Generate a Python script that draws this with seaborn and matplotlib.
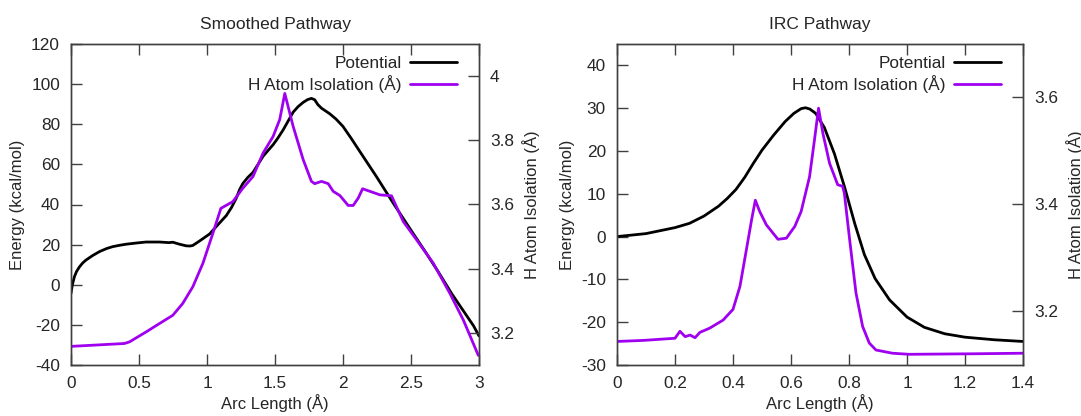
import numpy as np
import pandas as pd
import seaborn as sns
import matplotlib
matplotlib.use("Agg")
import matplotlib.pyplot as plt
from matplotlib.ticker import FuncFormatter, MultipleLocator

# ---------------- data ----------------
# Smoothed pathway: potential energy (kcal/mol)
sm_pot_x = [0.0, 0.01, 0.025, 0.04, 0.061, 0.085, 0.11, 0.16, 0.209, 0.26, 0.307, 0.36, 0.405,
            0.48, 0.552, 0.65, 0.72, 0.749, 0.798, 0.847, 0.875, 0.896, 0.945, 1.019, 1.068,
            1.142, 1.18, 1.215, 1.24, 1.264, 1.3, 1.338, 1.38, 1.412, 1.45, 1.486, 1.52,
            1.56, 1.6, 1.633, 1.67, 1.707, 1.74, 1.768, 1.792, 1.815, 1.842, 1.903, 1.95,
            2.0, 2.06, 2.124, 2.246, 2.37, 2.49, 2.6, 2.7, 2.8, 2.9, 2.96, 3.0]
sm_pot_e = [-4.3, 0.0, 4.0, 6.5, 8.8, 10.8, 12.3, 14.6, 16.5, 18.0, 19.0, 19.7, 20.2,
            20.8, 21.3, 21.3, 21.0, 21.2, 20.2, 19.4, 19.3, 19.6, 21.8, 25.3, 29.0,
            34.5, 38.5, 43.1, 47.5, 50.5, 53.5, 56.0, 60.5, 64.0, 67.0, 69.8, 73.0,
            77.2, 82.0, 86.0, 88.8, 90.9, 92.3, 92.9, 92.2, 89.8, 88.0, 85.2, 82.5,
            78.9, 73.0, 66.4, 53.9, 40.6, 28.2, 17.0, 6.5, -4.5, -14.5, -20.5, -25.5]
# Smoothed pathway: H atom isolation (Å)
sm_iso_x = [0.0, 0.393, 0.43, 0.552, 0.65, 0.749, 0.822, 0.896, 0.97, 1.043, 1.102, 1.19,
            1.264, 1.338, 1.412, 1.486, 1.535, 1.572, 1.633, 1.707, 1.768, 1.792, 1.842,
            1.891, 1.928, 1.977, 2.038, 2.075, 2.112, 2.144, 2.198, 2.272, 2.357, 2.443,
            2.541, 2.664, 2.786, 2.885, 2.995]
sm_iso_h = [3.158, 3.167, 3.172, 3.203, 3.229, 3.255, 3.292, 3.344, 3.417, 3.51, 3.588, 3.609,
            3.651, 3.687, 3.76, 3.812, 3.865, 3.946, 3.844, 3.74, 3.672, 3.665, 3.672,
            3.665, 3.641, 3.628, 3.597, 3.597, 3.62, 3.649, 3.641, 3.63, 3.627, 3.547,
            3.49, 3.417, 3.323, 3.24, 3.13]

# IRC pathway: potential energy (kcal/mol)
irc_pot_x = [0.0, 0.1, 0.2, 0.25, 0.3, 0.35, 0.38, 0.41, 0.44, 0.47, 0.5, 0.54, 0.58,
             0.61, 0.635, 0.65, 0.665, 0.685, 0.715, 0.75, 0.785, 0.82, 0.853, 0.89,
             0.94, 1.0, 1.06, 1.13, 1.2, 1.3, 1.4]
irc_pot_e = [0.0, 0.7, 2.1, 3.1, 4.8, 7.1, 8.9, 11.0, 13.8, 17.1, 20.2, 23.7, 26.9,
             28.8, 29.9, 30.1, 29.8, 28.8, 25.5, 19.3, 11.5, 3.0, -4.2, -9.8,
             -14.8, -18.8, -21.2, -22.7, -23.5, -24.1, -24.5]
# IRC pathway: H atom isolation (Å)
irc_iso_x = [0.0, 0.0916, 0.2, 0.217, 0.235, 0.252, 0.269, 0.286, 0.32, 0.366, 0.4, 0.424,
             0.446, 0.464, 0.477, 0.492, 0.515, 0.555, 0.584, 0.613, 0.635, 0.664, 0.681,
             0.695, 0.71, 0.733, 0.761, 0.778, 0.784, 0.801, 0.824, 0.847, 0.87, 0.893,
             0.95, 1.007, 1.236, 1.4]
irc_iso_h = [3.144, 3.146, 3.15, 3.163, 3.153, 3.156, 3.151, 3.161, 3.169, 3.184, 3.204, 3.247,
             3.315, 3.371, 3.408, 3.387, 3.362, 3.335, 3.337, 3.359, 3.387, 3.452, 3.521,
             3.58, 3.533, 3.477, 3.437, 3.434, 3.421, 3.34, 3.235, 3.172, 3.141, 3.128,
             3.122, 3.12, 3.121, 3.122]

titles = ["Smoothed Pathway", "IRC Pathway"]
x_label = "Arc Length (Å)"
y_label = "Energy (kcal/mol)"
y2_label = "H Atom Isolation (Å)"
pot_name = "Potential"
iso_name = "H Atom Isolation (Å)"

# ---------------- style ----------------
sns.set_style("white")
plt.rcParams["font.family"] = ["Liberation Sans", "DejaVu Sans"]
plt.rcParams["axes.unicode_minus"] = False
plt.rcParams["lines.solid_joinstyle"] = "round"

BLACK = "#000000"
PURPLE = "#a000f0"
SPINE = "#404040"
FS_TICK = 12.4
FS_LAB = 12
FS_TITLE = 12.5

fig = plt.figure(figsize=(10.81, 4.16), dpi=100)
W, H = 1081, 416
ax_l = fig.add_axes([71 / W, (H - 365) / H, 408 / W, 321 / H])
ax_r = fig.add_axes([617 / W, (H - 365) / H, 406 / W, 321 / H])

fmt = FuncFormatter(lambda v, p: "%g" % round(v, 6))

panels = [
    (ax_l, sm_pot_x, sm_pot_e, sm_iso_x, sm_iso_h, (0, 3), 0.5, (-40, 120), 20, (3.1, 4.1), 0.2),
    (ax_r, irc_pot_x, irc_pot_e, irc_iso_x, irc_iso_h, (0, 1.4), 0.2, (-30, 45), 10, (3.1, 3.7), 0.2),
]

for i, (ax, px, pe, ix, ih, xl, xs, yl, ys, y2l, y2s) in enumerate(panels):
    df_p = pd.DataFrame({"x": px, "y": pe})
    df_i = pd.DataFrame({"x": ix, "y": ih})
    sns.lineplot(data=df_p, x="x", y="y", ax=ax, color=BLACK, lw=2.0, sort=False,
                 estimator=None, label=pot_name, legend=False)
    ax2 = ax.twinx()
    sns.lineplot(data=df_i, x="x", y="y", ax=ax2, color=PURPLE, lw=2.0, sort=False,
                 estimator=None, label=iso_name, legend=False)

    ax.set_xlim(*xl)
    ax.set_ylim(*yl)
    ax2.set_ylim(*y2l)
    ax.xaxis.set_major_locator(MultipleLocator(xs))
    ax.yaxis.set_major_locator(MultipleLocator(ys))
    ax2.yaxis.set_major_locator(MultipleLocator(y2s))
    ax.xaxis.set_major_formatter(fmt)
    ax.yaxis.set_major_formatter(fmt)
    ax2.yaxis.set_major_formatter(fmt)
    if i == 1:
        ax2.set_yticks([3.2, 3.4, 3.6])

    ax.tick_params(axis="x", direction="in", length=8, width=1, color=SPINE,
                   top=True, bottom=True, labelsize=FS_TICK, pad=8)
    ax.tick_params(axis="y", direction="in", length=8, width=1, color=SPINE,
                   left=True, right=False, labelsize=FS_TICK, pad=8)
    ax2.tick_params(axis="y", direction="in", length=8, width=1, color=SPINE,
                    right=True, left=False, labelsize=FS_TICK, pad=8)

    for a in (ax, ax2):
        for s in a.spines.values():
            s.set_color(SPINE)
            s.set_linewidth(1.0)
            s.set_visible(True)

    ax.set_xlabel(x_label, fontsize=FS_LAB, labelpad=2)
    ax.set_ylabel(y_label, fontsize=FS_LAB, labelpad=4)
    ax2.set_ylabel(y2_label, fontsize=FS_LAB, labelpad=6)
    ax.set_title(titles[i], fontsize=FS_TITLE, pad=11)

    h1, l1 = ax.get_legend_handles_labels()
    h2, l2 = ax2.get_legend_handles_labels()
    ax2.legend(h1 + h2, l1 + l2, loc="upper right", frameon=False, markerfirst=False,
               fontsize=FS_TICK, handlelength=2.7, handletextpad=0.5, labelspacing=0.25,
               borderaxespad=0.3, bbox_to_anchor=(0.975, 1.0))

fig.savefig("out.png", dpi=100)
